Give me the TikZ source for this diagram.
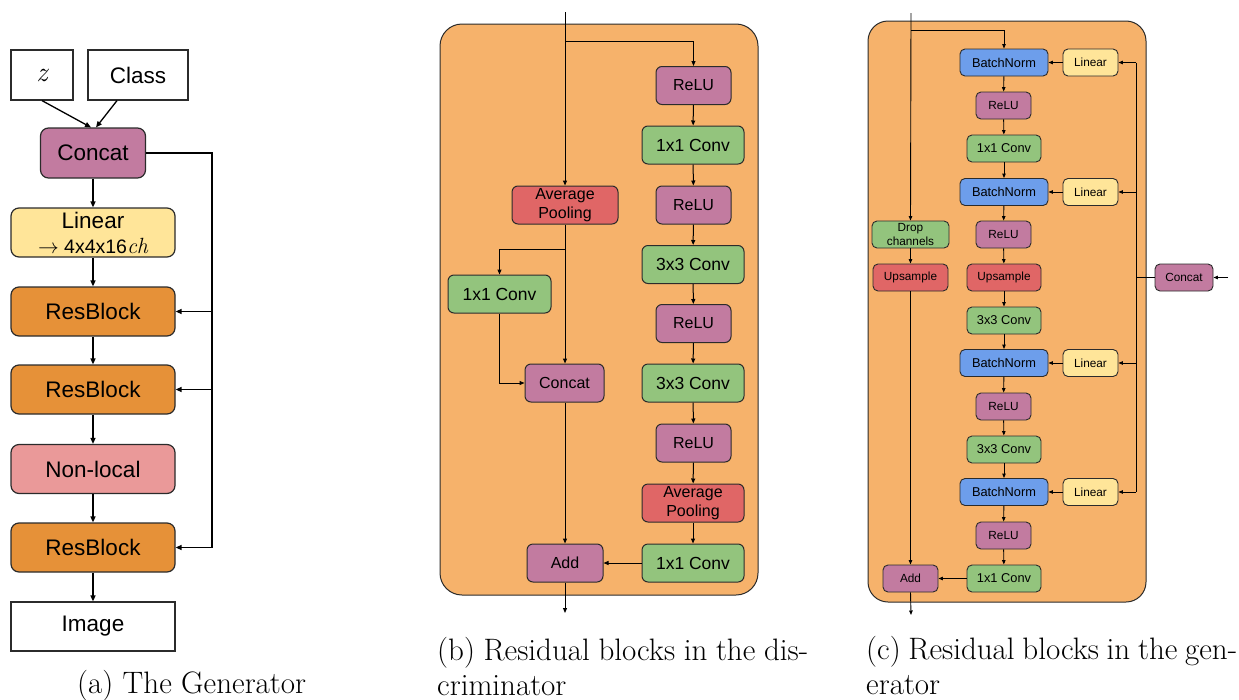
\documentclass[tikz,border=0pt]{standalone}
\usepackage{fontspec}
\newfontfamily\sansbox{Liberation Sans}
\usetikzlibrary{arrows.meta,calc}
\definecolor{cpurple}{HTML}{C27BA0}
\definecolor{cyellow}{HTML}{FFE599}
\definecolor{corange}{HTML}{E69138}
\definecolor{cpink}{HTML}{EA9999}
\definecolor{cgreen}{HTML}{93C47D}
\definecolor{cred}{HTML}{E06666}
\definecolor{cblue}{HTML}{6D9EEB}
\definecolor{cbg}{HTML}{F6B26B}
\definecolor{cedge}{HTML}{2B2B2B}
\begin{document}
\begin{tikzpicture}[x=1pt,y=-1pt,
  boxa/.style={draw=cedge, line width=1.2pt, rounded corners=8pt, inner sep=0pt, minimum height=49pt, minimum width=164pt, align=center, font=\sansbox\fontsize{22.5}{26}\selectfont},
  plaina/.style={boxa, rounded corners=0pt, fill=white},
  boxb/.style={draw=cedge, line width=1pt, rounded corners=6pt, inner sep=0pt, minimum height=38pt, align=center, font=\sansbox\fontsize{16}{19.5}\selectfont},
  convb/.style={boxb, fill=cgreen, minimum width=102pt, font=\sansbox\fontsize{17.5}{20}\selectfont},
  relub/.style={boxb, fill=cpurple, minimum width=75pt},
  boxc/.style={draw=cedge, line width=0.9pt, rounded corners=5pt, inner sep=0pt, minimum height=27pt, align=center, font=\sansbox\fontsize{11.8}{13.5}\selectfont},
  convc/.style={boxc, fill=cgreen, minimum width=74pt, font=\sansbox\fontsize{12.8}{14}\selectfont},
  reluc/.style={boxc, fill=cpurple, minimum width=55pt},
  bnc/.style={boxc, fill=cblue, minimum width=88pt, font=\sansbox\fontsize{12.8}{14}\selectfont},
  linc/.style={boxc, fill=cyellow, minimum width=55pt},
  bigbox/.style={draw=cedge, line width=1pt, fill=cbg},
  arra/.style={line width=1.3pt, -{Triangle[length=6pt,width=5pt]}},
  lina/.style={line width=1.3pt},
  arrb/.style={line width=1pt, -{Triangle[length=5pt,width=4pt]}},
  linb/.style={line width=1pt},
  arrc/.style={line width=0.9pt, -{Triangle[length=4.5pt,width=3.5pt]}},
  linc2/.style={line width=0.9pt},
  caption/.style={anchor=base west, inner sep=0pt, font=\fontsize{31}{35}\selectfont},
]
\useasboundingbox (0,0) rectangle (1239,699);

% ---------------- Panel (a) ----------------
\node[plaina, minimum width=62pt, minimum height=50pt] (z) at (42,75) {\rmfamily\itshape\fontsize{28}{28}\selectfont z};
\node[plaina, minimum width=100pt, minimum height=50pt] (cls) at (138,75) {Class};
\node[boxa, fill=cpurple, minimum width=105pt, minimum height=50pt] (conc) at (93,153) {Concat};
\node[boxa, fill=cyellow] (lin) at (93,232.5) {{\fontsize{22.5}{24}\selectfont Linear}\\[-1pt]{\fontsize{19.5}{21}\selectfont $\rightarrow$ 4x4x16{\rmfamily\itshape\fontsize{22}{22}\selectfont ch}}};
\node[boxa, fill=corange] (rb1) at (93,311.5) {ResBlock};
\node[boxa, fill=corange] (rb2) at (93,389.5) {ResBlock};
\node[boxa, fill=cpink] (nl) at (93,469) {Non-local};
\node[boxa, fill=corange] (rb3) at (93,547.5) {ResBlock};
\node[plaina] (img) at (93,626.5) {Image};
\coordinate (fb) at (212,547.5);

\draw[arra] (z.south) -- ([xshift=-2pt]conc.north);
\draw[arra] ([xshift=-21pt]cls.south) -- ([xshift=3pt]conc.north);
\draw[arra] (conc.south) -- (lin.north);
\draw[arra] (lin.south) -- (rb1.north);
\draw[arra] (rb1.south) -- (rb2.north);
\draw[arra] (rb2.south) -- (nl.north);
\draw[arra] (nl.south) -- (rb3.north);
\draw[arra] (rb3.south) -- (img.north);
\draw[lina] (conc.east) -| (fb);
\draw[arra] (rb1.east -| fb) -- (rb1.east);
\draw[arra] (rb2.east -| fb) -- (rb2.east);
\draw[arra] (fb) -- (rb3.east);

\node[caption] (capa) at (77,693) {(a) The Generator};

% ---------------- Panel (b) ----------------
\draw[bigbox, rounded corners=22pt] (440,24) rectangle (758,595);
\node[relub] (br1) at (693.5,85.5) {ReLU};
\node[convb] (bc1) at (693,145) {1x1 Conv};
\node[relub] (br2) at (693.5,205) {ReLU};
\node[convb] (bc2) at (693,264.5) {3x3 Conv};
\node[relub] (br3) at (693.5,323.5) {ReLU};
\node[convb] (bc3) at (693,383) {3x3 Conv};
\node[relub] (br4) at (693.5,443) {ReLU};
\node[boxb, fill=cred, minimum width=102pt] (bapr) at (693,503) {Average\\Pooling};
\node[convb] (bc4) at (693,563) {1x1 Conv};
\node[boxb, fill=cred, minimum width=106pt] (bapl) at (565,205) {Average\\Pooling};
\node[convb, minimum width=103pt] (bcl) at (499.5,294) {1x1 Conv};
\node[boxb, fill=cpurple, minimum width=79pt] (bcat) at (564.5,383) {Concat};
\node[boxb, fill=cpurple, minimum width=76pt] (badd) at (565,563) {Add};
\coordinate (bin) at (565,12);
\coordinate (bsplit) at (565,41);
\coordinate (bsplit2) at (565,249);
\coordinate (bout) at (565,613);

\draw[arrb] (bin) -- (bapl.north);
\draw[arrb] (bsplit) -| (br1.north);
\draw[arrb] (br1) -- (bc1);
\draw[arrb] (bc1) -- (br2);
\draw[arrb] (br2) -- (bc2);
\draw[arrb] (bc2) -- (br3);
\draw[arrb] (br3) -- (bc3);
\draw[arrb] (bc3) -- (br4);
\draw[arrb] (br4) -- (bapr);
\draw[arrb] (bapr) -- (bc4);
\draw[arrb] (bapl.south) -- ([xshift=0.5pt]bcat.north);
\draw[arrb] (bsplit2) -| (bcl.north);
\draw[arrb] (bcl.south) |- (bcat.west);
\draw[arrb] ([xshift=0.5pt]bcat.south) -- (badd.north);
\draw[arrb] (bc4.west) -- (badd.east);
\draw[arrb] (badd.south) -- (bout);

\node[caption] (capb1) at (437,660) {\makebox[371pt][s]{(b) Residual blocks in the dis-}};
\node[caption] (capb2) at (437,695) {criminator};

% ---------------- Panel (c) ----------------
\draw[bigbox, rounded corners=20pt] (868,21) rectangle (1146,602);
\node[bnc] (cbn1) at (1004,62.5) {BatchNorm};
\node[linc] (cl1) at (1090.5,62.5) {Linear};
\node[reluc] (cr1) at (1003.5,105.5) {ReLU};
\node[convc] (cc1) at (1004,148.5) {1x1 Conv};
\node[bnc] (cbn2) at (1004,192) {BatchNorm};
\node[linc] (cl2) at (1090.5,192) {Linear};
\node[reluc] (cr2) at (1003.5,234.5) {ReLU};
\node[boxc, fill=cred, minimum width=74pt] (cupr) at (1004,277.5) {Upsample};
\node[convc] (cc2) at (1004,320.5) {3x3 Conv};
\node[bnc] (cbn3) at (1004,363) {BatchNorm};
\node[linc] (cl3) at (1090.5,363) {Linear};
\node[reluc] (cr3) at (1003.5,406.5) {ReLU};
\node[convc] (cc3) at (1004,449.5) {3x3 Conv};
\node[bnc] (cbn4) at (1004,492) {BatchNorm};
\node[linc] (cl4) at (1090.5,492) {Linear};
\node[reluc] (cr4) at (1003.5,535.5) {ReLU};
\node[convc] (cc4) at (1004,578.5) {1x1 Conv};
\node[boxc, fill=cgreen, minimum width=77pt] (cdrop) at (910.5,234.5) {Drop\\channels};
\node[boxc, fill=cred, minimum width=75pt] (cupl) at (910.5,277.5) {Upsample};
\node[boxc, fill=cpurple, minimum width=55pt] (cadd) at (910.5,578.5) {Add};
\node[boxc, fill=cpurple, minimum width=58pt] (ccat) at (1184,277.5) {Concat};
\coordinate (cin) at (911,13);
\coordinate (csplit) at (911,30);
\coordinate (cout) at (911,615);
\coordinate (ccin) at (1228,277.5);
\coordinate (cvtop) at (1136,62.5);
\coordinate (cvbot) at (1136,492);

\draw[arrc] (cin) -- (cdrop.north);
\draw[arrc] (csplit) -| (cbn1.north);
\draw[arrc] (cbn1) -- (cr1);
\draw[arrc] (cr1) -- (cc1);
\draw[arrc] (cc1) -- (cbn2);
\draw[arrc] (cbn2) -- (cr2);
\draw[arrc] (cr2) -- (cupr);
\draw[arrc] (cupr) -- (cc2);
\draw[arrc] (cc2) -- (cbn3);
\draw[arrc] (cbn3) -- (cr3);
\draw[arrc] (cr3) -- (cc3);
\draw[arrc] (cc3) -- (cbn4);
\draw[arrc] (cbn4) -- (cr4);
\draw[arrc] (cr4) -- (cc4);
\draw[arrc] (cc4.west) -- (cadd.east);
\draw[arrc] (cdrop) -- (cupl);
\draw[arrc] (cupl.south) -- (cadd.north);
\draw[arrc] (cadd.south) -- (cout);
\draw[arrc] (cl1.west) -- (cbn1.east);
\draw[arrc] (cl2.west) -- (cbn2.east);
\draw[arrc] (cl3.west) -- (cbn3.east);
\draw[arrc] (cl4.west) -- (cbn4.east);
\draw[arrc] (ccin) -- (ccat.east);
\draw[linc2] (ccat.west) -- (ccat.west -| cvtop);
\draw[linc2] (cvtop) -- (cvbot);
\draw[arrc] (cvtop) -- (cl1.east);
\draw[arrc] (cl2.east -| cvtop) -- (cl2.east);
\draw[arrc] (cl3.east -| cvtop) -- (cl3.east);
\draw[arrc] (cvbot) -- (cl4.east);

\node[caption] (capc1) at (866,659) {\makebox[371pt][s]{(c) Residual blocks in the gen-}};
\node[caption] (capc2) at (866,694) {erator};
\end{tikzpicture}
\end{document}
